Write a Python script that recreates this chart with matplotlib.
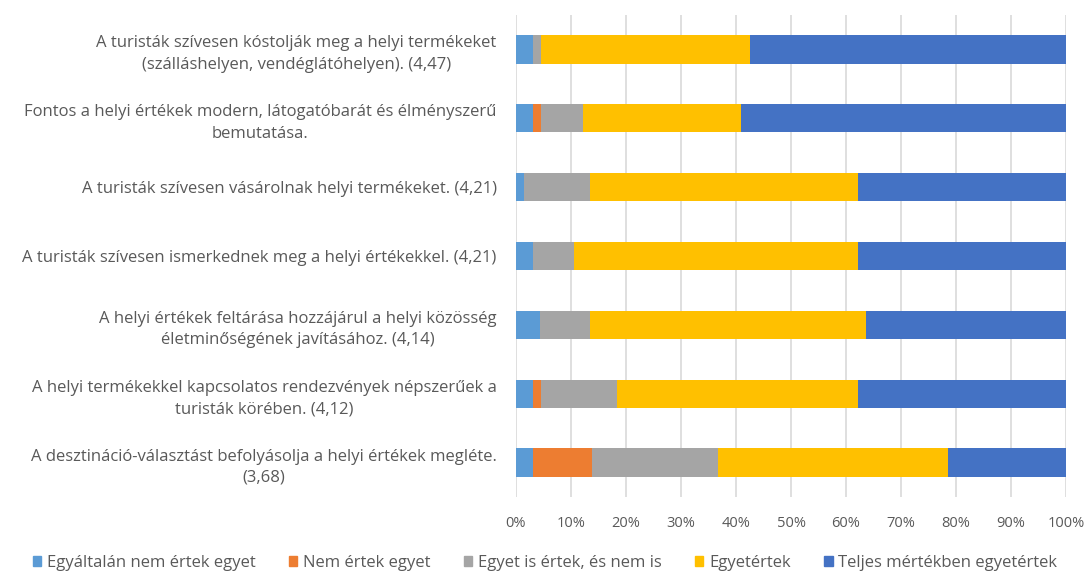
import numpy as np
import matplotlib.pyplot as plt
from matplotlib.patches import Patch

plt.rcParams['font.family'] = ['Open Sans', 'DejaVu Sans']

labels = [
    'A turisták szívesen kóstolják meg a helyi termékeket\n(szálláshelyen, vendéglátóhelyen). (4,47)',
    'Fontos a helyi értékek modern, látogatóbarát és élményszerű\nbemutatása.',
    'A turisták szívesen vásárolnak helyi termékeket. (4,21)',
    'A turisták szívesen ismerkednek meg a helyi értékekkel. (4,21)',
    'A helyi értékek feltárása hozzájárul a helyi közösség\néletminőségének javításához. (4,14)',
    'A helyi termékekkel kapcsolatos rendezvények népszerűek a\nturisták körében. (4,12)',
    'A desztináció-választást befolyásolja a helyi értékek megléte.\n(3,68)',
]
series = ['Egyáltalán nem értek egyet', 'Nem értek egyet', 'Egyet is értek, és nem is',
          'Egyetértek', 'Teljes mértékben egyetértek']
colors = ['#5b9bd5', '#ed7d31', '#a5a5a5', '#ffc000', '#4472c4']

nem_egyaltalan = [3.0, 3.0, 1.5, 3.0, 4.4, 3.0, 3.0]
nem = [0.0, 1.5, 0.0, 0.0, 0.0, 1.5, 10.8]
semleges = [1.5, 7.6, 12.0, 7.6, 9.1, 13.9, 23.0]
egyet = [38.0, 28.8, 48.6, 51.5, 50.1, 43.8, 41.8]
teljes = [57.5, 59.1, 37.9, 37.9, 36.4, 37.9, 21.4]
data = [nem_egyaltalan, nem, semleges, egyet, teljes]

fig = plt.figure(figsize=(10.89, 5.72), dpi=100)
ax = fig.add_axes([516/1089, 1-497/572, 550/1089, 482/572])

y = np.arange(len(labels))
left = np.zeros(len(labels))
for vals, c, name in zip(data, colors, series):
    ax.barh(y, vals, left=left, height=0.41, color=c, label=name, zorder=3)
    left += np.array(vals)

ax.set_ylim(len(labels) - 0.5, -0.5)
ax.set_xlim(0, 100)
ax.set_xticks(np.arange(0, 101, 10))
ax.set_xticklabels([f'{v}%' for v in range(0, 101, 10)], fontsize=10.5)
ax.set_yticks(y)
ax.set_yticklabels(labels, multialignment='center', linespacing=1.45, fontsize=12)
ax.tick_params(axis='both', length=0, colors='#595959')
ax.tick_params(axis='y', pad=14)
ax.tick_params(axis='x', pad=14)
ax.grid(axis='x', color='#d9d9d9', linewidth=1.2, zorder=0)
for s in ax.spines.values():
    s.set_visible(False)

handles = [Patch(color=c) for c in colors]
fig.legend(handles, series, loc='center', bbox_to_anchor=(545/1089, 1-563/572), ncol=5,
           frameon=False, fontsize=12, handlelength=0.5, handleheight=0.5,
           handletextpad=0.35, columnspacing=2.0, labelcolor='#595959')

fig.savefig('out.png', dpi=100)
